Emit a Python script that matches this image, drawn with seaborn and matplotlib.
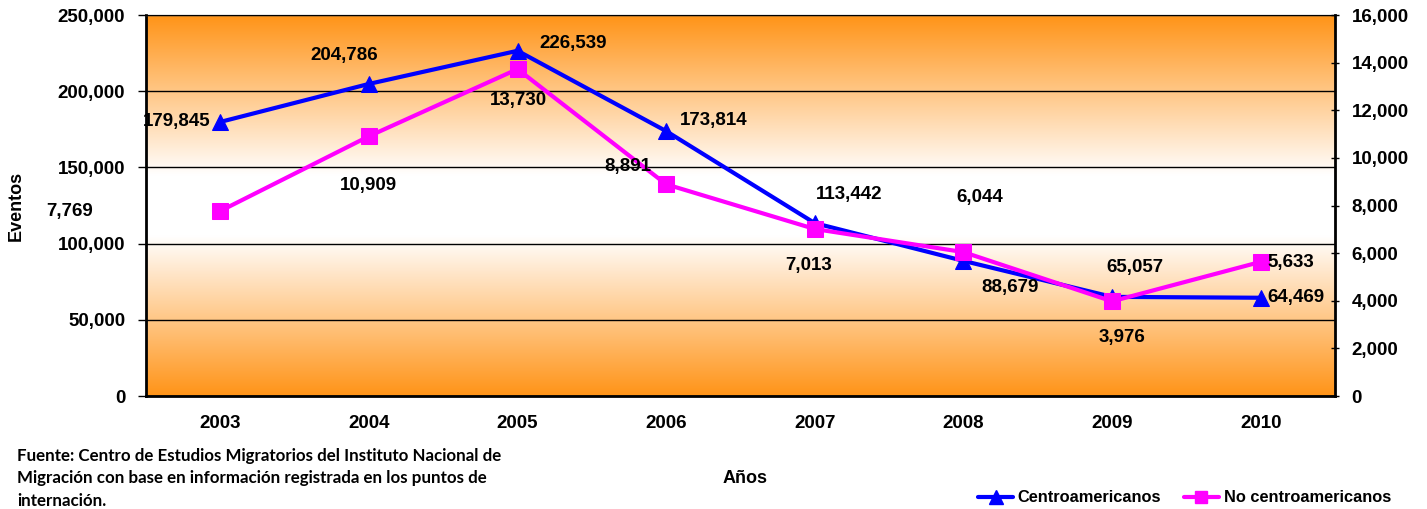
import numpy as np
import pandas as pd
import matplotlib.pyplot as plt
import seaborn as sns
from matplotlib.colors import LinearSegmentedColormap
from matplotlib.lines import Line2D

# --- data ---
years = ['2003', '2004', '2005', '2006', '2007', '2008', '2009', '2010']
centro = [179845, 204786, 226539, 173814, 113442, 88679, 65057, 64469]
no_centro = [7769, 10909, 13730, 8891, 7013, 6044, 3976, 5633]

# label offsets in pixels (layout only)
centro_off = [(-10, 0, 'right'), (-25, 28, 'center'), (22, 7, 'left'), (14, 11, 'left'),
              (34, 29, 'center'), (47, -27, 'center'), (23, 29, 'center'), (7, 0, 'left')]
no_off = [(-127, 0, 'right'), (0, -49, 'center'), (1, -31, 'center'), (-38, 18, 'center'),
          (-6, -36, 'center'), (16, 55, 'center'), (10, -36, 'center'), (7, -1, 'left')]

df = pd.DataFrame({'pos': np.arange(len(years)), 'year': years,
                   'centro': centro, 'no_centro': no_centro})

sns.set_style('white')
plt.rcParams['font.family'] = ['Liberation Sans', 'DejaVu Sans']
plt.rcParams['font.weight'] = 'bold'
for k in ('text.color', 'axes.labelcolor', 'xtick.color', 'ytick.color'):
    plt.rcParams[k] = 'black'

fig, ax = plt.subplots(figsize=(14.27, 5.09), dpi=100)
fig.subplots_adjust(left=0.1023, right=0.9355, top=0.9705, bottom=0.222)

# orange-white-orange background gradient
cmap = LinearSegmentedColormap.from_list(
    'bg', [(0, '#FF9418'), (0.42, '#FFFFFF'), (0.58, '#FFFFFF'), (1, '#FF9418')])
grad = np.linspace(0, 1, 256).reshape(-1, 1)
ax.imshow(grad, cmap=cmap, aspect='auto', extent=[0, 1, 0, 1],
          transform=ax.transAxes, zorder=0)

ax2 = ax.twinx()

sns.lineplot(data=df, x='pos', y='centro', ax=ax, color='#0000FF', lw=3,
             marker='^', markersize=12, markeredgecolor='#0000FF', zorder=3)
sns.lineplot(data=df, x='pos', y='no_centro', ax=ax2, color='#FF00FF', lw=3,
             marker='s', markersize=11, markeredgecolor='#FF00FF', zorder=3)

ax.set_xlim(-0.5, len(years) - 0.5)
ax.set_ylim(0, 250000)
ax2.set_ylim(0, 16000)
ax.set_yticks(np.arange(0, 250001, 50000))
ax2.set_yticks(np.arange(0, 16001, 2000))
ax.yaxis.set_major_formatter(plt.FuncFormatter(lambda v, p: f'{int(v):,}'))
ax2.yaxis.set_major_formatter(plt.FuncFormatter(lambda v, p: f'{int(v):,}'))

ax.set_xticks(np.arange(len(years)))
ax.set_xticklabels(years)
ax.set_xticks(np.arange(-0.5, len(years)), minor=True)
ax.tick_params(axis='x', which='major', length=0, pad=14, labelsize=13.5)
ax.tick_params(axis='x', which='minor', length=6, width=1, direction='out')
ax.tick_params(axis='y', length=6, width=1, direction='out', labelsize=13.5,
               left=True, pad=9)
ax2.tick_params(axis='y', length=6, width=1, direction='inout', labelsize=13.5,
                right=True, pad=9)

ax.grid(axis='y', color='black', lw=1)
ax.set_axisbelow(False)
for a in (ax, ax2):
    for s in a.spines.values():
        s.set_visible(False)
ax.spines['left'].set_visible(True)
ax.spines['bottom'].set_visible(True)
ax2.spines['right'].set_visible(True)
for s in (ax.spines['left'], ax.spines['bottom'], ax2.spines['right']):
    s.set_color('black')
    s.set_linewidth(2)
ax.spines['top'].set_visible(True)
ax.spines['top'].set_color('#808080')
ax.spines['top'].set_linewidth(1)

ax.set_xlabel('')
ax.set_ylabel('Eventos', fontsize=13, fontweight='bold', labelpad=24)
ax2.set_ylabel('')

for i, v in enumerate(centro):
    dx, dy, ha = centro_off[i]
    ax.annotate(f'{v:,}', (i, v), xytext=(dx, dy), textcoords='offset pixels',
                ha=ha, va='center', fontsize=13.5, fontweight='bold', zorder=5,
                annotation_clip=False)
for i, v in enumerate(no_centro):
    dx, dy, ha = no_off[i]
    ax2.annotate(f'{v:,}', (i, v), xytext=(dx, dy), textcoords='offset pixels',
                 ha=ha, va='center', fontsize=13.5, fontweight='bold', zorder=5,
                 annotation_clip=False)

fig.text(0.522, 0.06, 'Años', ha='center', va='center', fontsize=13, fontweight='bold')
fig.text(0.012, 1 - 448 / 509,
         'Fuente: Centro de Estudios Migratorios del Instituto Nacional de\n'
         'Migración con base en información registrada en los puntos de\ninternación.',
         ha='left', va='top', fontsize=12.2, fontweight='bold', linespacing=1.5,
         family=['Lato', 'DejaVu Sans'])

handles = [Line2D([], [], color='#0000FF', lw=3, marker='^', markersize=10),
           Line2D([], [], color='#FF00FF', lw=3, marker='s', markersize=9)]
fig.legend(handles, ['Centroamericanos', 'No centroamericanos'], loc='lower right',
           bbox_to_anchor=(0.985, -0.022), ncol=2, frameon=False,
           handlelength=2.1, handletextpad=0.3, columnspacing=1.4,
           prop={'weight': 'bold', 'size': 11.8})

fig.savefig('out.png', dpi=100)
